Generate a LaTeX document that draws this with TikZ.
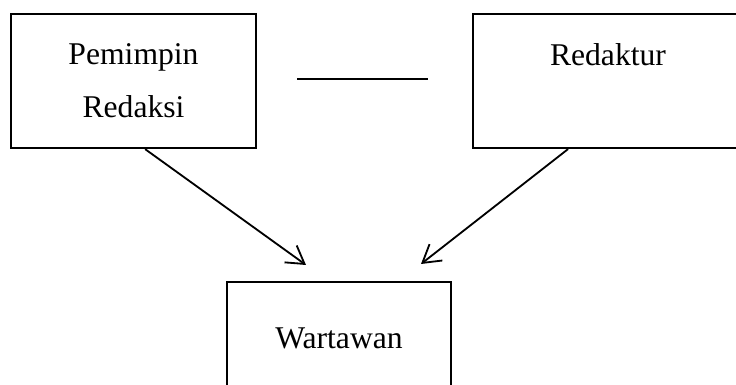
\documentclass[tikz,border=0pt]{standalone}
\usepackage{fontspec}
\setmainfont{Liberation Serif}
\usetikzlibrary{arrows.meta}

\tikzset{
    jabatan/.style={draw,line width=1.6pt,align=center,inner sep=0pt,
        font=\fontsize{22.5}{37.6}\selectfont},
    panah/.style={line width=1.3pt,-{Straight Barb[length=0.43cm,width=0.52cm,line width=1.3pt]}}
}

\begin{document}
\begin{tikzpicture}
    \useasboundingbox (0,0) rectangle (18.4,9.625);
    \clip (0,0) rectangle (18.4,9.625);

    % Draw boxes
    \node[jabatan,minimum width=6.125cm,minimum height=3.35cm] (pemred) at (3.3375,7.6) {Pemimpin\\Redaksi};
    \node[jabatan,minimum width=6.75cm,minimum height=3.35cm] (redaktur) at (15.2,7.6) {Redaktur\\\mbox{}};
    \node[jabatan,minimum width=5.6cm,minimum height=2.8cm] (wartawan) at (8.475,1.175) {Wartawan};

    % Draw line between the top boxes
    \draw[line width=0.9pt] (7.425,7.65) -- (10.7,7.65);

    % Draw arrows to Wartawan
    \coordinate (kiri) at (7.65,3.0);
    \coordinate (kanan) at (10.525,3.025);
    \draw[panah] ([xshift=0.29cm]pemred.south) -- (kiri);
    \draw[panah] ([xshift=-1cm]redaktur.south) -- (kanan);
\end{tikzpicture}
\end{document}
